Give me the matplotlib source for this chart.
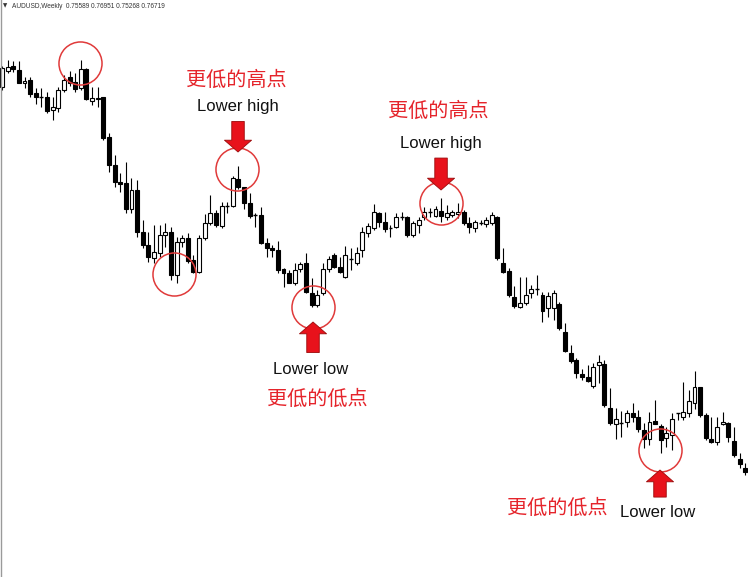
import numpy as np
import matplotlib
matplotlib.use("Agg")
import matplotlib.pyplot as plt
from matplotlib.patches import Rectangle
from matplotlib.lines import Line2D

# Weekly AUDUSD candles, prices in units of 0.001
opens = [1013, 1029, 1034, 1030, 1017, 1020, 1007, 1003, 1003, 990,
         992, 1010, 1023, 1018, 1012, 1031, 999, 1001, 1003, 963,
         935, 918, 917, 891, 910, 868, 855, 842, 847, 865,
         868, 825, 858, 862, 840, 828, 862, 877, 887, 874,
         894, 894, 921, 913, 897, 885, 885, 857, 852, 850,
         831, 827, 817, 831, 837, 807, 795, 807, 831, 845,
         833, 823, 841, 837, 850, 867, 872, 887, 878, 872,
         873, 883, 883, 865, 875, 883, 888, 884, 889, 883,
         885, 886, 888, 877, 872, 877, 876, 877, 883, 837,
         829, 803, 793, 797, 807, 811, 805, 792, 792, 796,
         768, 747, 740, 726, 723, 714, 735, 736, 692, 676,
         677, 678, 687, 683, 670, 661, 679, 674, 662, 665,
         687, 683, 687, 697, 713, 685, 661, 658, 676, 677,
         659, 641, 632]
highs = [1034, 1040, 1039, 1039, 1023, 1023, 1012, 1012, 1008, 1003,
         1013, 1025, 1029, 1027, 1040, 1032, 1013, 1013, 1003, 967,
         945, 927, 938, 922, 920, 880, 868, 875, 875, 877,
         873, 863, 865, 867, 845, 865, 886, 905, 890, 898,
         898, 924, 934, 913, 907, 887, 893, 862, 855, 859,
         832, 830, 837, 838, 847, 822, 810, 837, 844, 847,
         843, 854, 852, 853, 873, 877, 896, 888, 888, 875,
         887, 888, 884, 879, 883, 893, 892, 894, 902, 895,
         890, 897, 890, 883, 880, 880, 883, 888, 884, 852,
         832, 814, 823, 823, 815, 825, 808, 808, 810, 798,
         777, 755, 742, 731, 735, 737, 745, 740, 712, 692,
         689, 690, 697, 690, 677, 688, 700, 676, 673, 687,
         687, 718, 710, 729, 713, 687, 683, 683, 688, 678,
         673, 647, 637]
lows = [1010, 1027, 1028, 1017, 1012, 1003, 996, 993, 987, 980,
        988, 1008, 1014, 1008, 1010, 1000, 995, 993, 960, 928,
        913, 908, 887, 887, 863, 852, 838, 837, 843, 853,
        820, 817, 853, 837, 827, 827, 860, 875, 873, 872,
        887, 893, 911, 891, 882, 873, 856, 843, 843, 827,
        813, 817, 815, 828, 807, 793, 793, 805, 828, 832,
        827, 822, 830, 835, 843, 863, 870, 873, 868, 863,
        872, 880, 863, 863, 867, 880, 883, 883, 878, 880,
        883, 882, 875, 867, 868, 875, 873, 875, 840, 827,
        803, 792, 792, 795, 802, 805, 778, 783, 780, 770,
        748, 737, 722, 720, 718, 712, 717, 693, 675, 661,
        663, 673, 678, 668, 652, 655, 676, 647, 653, 650,
        680, 680, 683, 691, 683, 660, 657, 655, 675, 658,
        643, 632, 625]
closes = [1032, 1033, 1031, 1017, 1019, 1006, 1003, 1003, 989, 993,
          1010, 1020, 1017, 1011, 1031, 1001, 1002, 1002, 962, 935,
          918, 916, 891, 910, 868, 855, 843, 848, 865, 868,
          825, 858, 862, 839, 828, 862, 877, 887, 875, 894,
          894, 922, 913, 897, 884, 885, 857, 852, 850, 830,
          827, 817, 830, 836, 808, 795, 805, 831, 841, 833,
          828, 845, 841, 847, 868, 874, 888, 878, 871, 872,
          883, 883, 865, 877, 880, 888, 888, 891, 884, 887,
          888, 888, 877, 873, 878, 877, 880, 885, 842, 828,
          805, 794, 797, 805, 811, 811, 789, 804, 807, 772,
          749, 739, 727, 723, 719, 733, 738, 695, 677, 681,
          677, 687, 683, 671, 661, 678, 676, 660, 667, 681,
          687, 688, 699, 713, 685, 662, 658, 673, 678, 663,
          645, 636, 628]

opens = np.array(opens) / 1000
highs = np.array(highs) / 1000
lows = np.array(lows) / 1000
closes = np.array(closes) / 1000

header = "AUDUSD,Weekly  0.75589 0.76951 0.75268 0.76719"
cn_high = "更低的高点"
cn_low = "更低的低点"
en_high = "Lower high"
en_low = "Lower low"

# swing points marked with circles (candle index, price)
circle_x = [13.85, 30.55, 41.74, 55.24, 77.98, 116.87]
circle_y = [1.037, 0.826, 0.931, 0.793, 0.897, 0.650]

W, H = 748, 577
fig = plt.figure(figsize=(W / 100, H / 100), dpi=100)
fig.patch.set_facecolor("white")
ax = fig.add_axes([0, 0, 1, 1])
ax.set_xlim(-0.355, 132.5)
ax.set_ylim(0.523, 1.100)
ax.axis("off")

bw = 0.7
n = len(opens)
for i in range(n):
    o, h, l, c = opens[i], highs[i], lows[i], closes[i]
    ax.vlines(i, l, h, color="black", lw=0.8, zorder=2)
    if abs(c - o) < 1e-9:
        ax.hlines(o, i - bw / 2, i + bw / 2, color="black", lw=1.0, zorder=3)
    else:
        bull = c > o
        ax.add_patch(Rectangle((i - bw / 2, min(o, c)), bw, abs(c - o),
                               facecolor="white" if bull else "black",
                               edgecolor="black", lw=0.8, zorder=3))

red = "#e5242b"
ax.plot(circle_x, circle_y, ls="none", marker="o", markersize=31,
        mfc="none", mec="#e03a3a", mew=1.1, zorder=4)

arrow_kw = dict(width=9, headwidth=19.5, headlength=8.5, shrink=0,
                facecolor="#e8121b", edgecolor="#9a0a0a", lw=0.6)
# (tip x, tip y, vertical offset of tail in points)
arrows = [(41.92, 0.948, 22), (55.24, 0.778, -22),
          (77.98, 0.910, 23), (116.87, 0.630, -19.5)]
for tx, ty, off in arrows:
    ax.annotate("", xy=(tx, ty), xytext=(0, off), textcoords="offset points",
                arrowprops=arrow_kw, zorder=5)

cjk = ["Noto Sans CJK SC", "DejaVu Sans"]
en = ["Liberation Sans", "DejaVu Sans"]
ax.text(41.56, 1.020, cn_high, color=red, fontsize=14.5, family=cjk,
        ha="center", va="center")
ax.text(41.92, 0.994, en_high, color="#111111", fontsize=12, family=en,
        ha="center", va="center")
ax.text(77.44, 0.989, cn_high, color=red, fontsize=14.5, family=cjk,
        ha="center", va="center")
ax.text(77.98, 0.957, en_high, color="#111111", fontsize=12, family=en,
        ha="center", va="center")
ax.text(54.88, 0.731, en_low, color="#111111", fontsize=12, family=en,
        ha="center", va="center")
ax.text(55.95, 0.701, cn_low, color=red, fontsize=14.5, family=cjk,
        ha="center", va="center")
ax.text(98.58, 0.592, cn_low, color=red, fontsize=14.5, family=cjk,
        ha="center", va="center")
ax.text(116.52, 0.588, en_low, color="#111111", fontsize=12, family=en,
        ha="center", va="center")

# header and left border
fig.text(5 / W, 1 - 6 / H, "▼", fontsize=4, color="#333333",
         ha="center", va="center", family=["DejaVu Sans"])
fig.text(12 / W, 1 - 6 / H, header, fontsize=4.7, color="#333333",
         ha="left", va="center", family=en)
fig.add_artist(Line2D([1 / W, 1 / W], [0, 1], color="#9a9a9a", lw=1.0,
                      transform=fig.transFigure))

fig.savefig("out.png", dpi=100, facecolor="white")
